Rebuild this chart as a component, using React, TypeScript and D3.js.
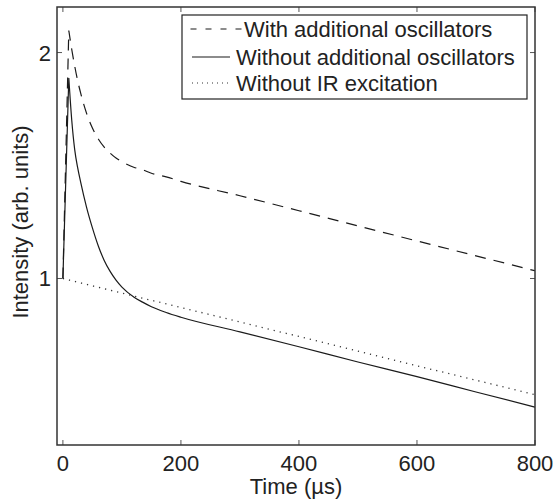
import React from "react";
import * as d3 from "d3";

const timeUs = [0, 10, 15, 20, 25, 30, 40, 50, 60, 70, 80, 90, 100, 120, 135, 150, 175, 200, 300, 400, 500, 600, 700, 800];
const withOscillators = [1, 2.14, 2.019, 1.919, 1.835, 1.767, 1.661, 1.587, 1.534, 1.496, 1.469, 1.447, 1.431, 1.407, 1.396, 1.381, 1.366, 1.347, 1.289, 1.231, 1.175, 1.122, 1.072, 1.024];
const withoutOscillators = [1, 1.85, 1.625, 1.485, 1.405, 1.345, 1.245, 1.168, 1.105, 1.057, 1.022, 0.995, 0.974, 0.945, 0.93, 0.917, 0.901, 0.888, 0.849, 0.811, 0.774, 0.74, 0.706, 0.674];
const timeIR = [0, 100, 200, 300, 400, 500, 600, 700, 800];
const withoutIR = [1, 0.956, 0.915, 0.875, 0.837, 0.8, 0.765, 0.732, 0.7];

const xTicks = [0, 200, 400, 600, 800];
const yTicks = [1, 2];
const legendLabels = ["With additional oscillators", "Without additional oscillators", "Without IR excitation"];

const W = 554;
const H = 500;
const L = 57, R = 535, T = 7, B = 445;
const FONT = "'Liberation Sans', Arial, Helvetica, sans-serif";

export default function App() {
  const x = d3.scaleLinear().domain([-10, 800]).range([L, R]);
  const y = d3.scaleLog().domain([0.6, 2.3]).range([B, T]);

  const pts = (ts: number[], vs: number[]) => ts.map((t, i) => [x(t), y(vs[i])] as [number, number]);
  const linear = d3.line().curve(d3.curveLinear);
  const smooth = d3.line().curve(d3.curveMonotoneX);

  const peakPath = (ts: number[], vs: number[]) => {
    const p = pts(ts, vs);
    const rise = linear(p.slice(0, 2)) as string;
    const decay = (smooth(p.slice(1)) as string).replace(/^M[^LC]*/, "");
    return rise + decay;
  };

  const dashedPath = peakPath(timeUs, withOscillators);
  const solidPath = peakPath(timeUs, withoutOscillators);
  const dottedPath = linear(pts(timeIR, withoutIR)) as string;

  const lineColor = "#1a1a1a";
  const axisColor = "#333";
  const tickColor = "#555";
  const tickLen = 5;

  return (
    <svg width={W} height={H} style={{ position: "absolute", left: 0, top: 0, background: "#fff" }} fontFamily={FONT}>
      <rect x={0} y={0} width={W} height={H} fill="#fff" />
      <defs>
        <clipPath id="plot">
          <rect x={L} y={T} width={R - L} height={B - T} />
        </clipPath>
      </defs>
      <g clipPath="url(#plot)" fill="none" stroke={lineColor} strokeWidth={1.2}>
        <path d={dottedPath} strokeDasharray="1.2 5" strokeWidth={1.3} stroke="#333" />
        <path d={dashedPath} strokeDasharray="11 8" />
        <path d={solidPath} />
      </g>
      <g stroke={tickColor} strokeWidth={1}>
        {xTicks.map((t) => (
          <g key={"xt" + t}>
            <line x1={x(t)} x2={x(t)} y1={B} y2={B - tickLen} />
            <line x1={x(t)} x2={x(t)} y1={T} y2={T + tickLen} />
          </g>
        ))}
        {yTicks.map((v) => (
          <g key={"yt" + v}>
            <line x1={L} x2={L + tickLen} y1={y(v)} y2={y(v)} />
            <line x1={R} x2={R - tickLen} y1={y(v)} y2={y(v)} />
          </g>
        ))}
      </g>
      <rect x={L} y={T} width={R - L} height={B - T} fill="none" stroke={axisColor} strokeWidth={1.5} />
      <g fontSize={22} fill="#222">
        {xTicks.map((t) => (
          <text key={"xl" + t} x={x(t)} y={471} textAnchor="middle">{t}</text>
        ))}
        {yTicks.map((v) => (
          <text key={"yl" + v} x={51} y={y(v) + 8} textAnchor="end">{v}</text>
        ))}
      </g>
      <text x={(L + R) / 2} y={493.5} textAnchor="middle" fontSize={22} fill="#222">Time (µs)</text>
      <text transform={`translate(27.5,${(T + B) / 2 - 4}) rotate(-90)`} textAnchor="middle" fontSize={22} fill="#222">Intensity (arb. units)</text>
      <g>
        <rect x={182} y={15} width={345} height={84} fill="#fff" stroke="#222" strokeWidth={1.2} />
        <line x1={190.5} x2={242} y1={29} y2={29} stroke={lineColor} strokeWidth={1.2} strokeDasharray="6 9" />
        <text x={244} y={37} fontSize={22} fill="#222">{legendLabels[0]}</text>
        <line x1={192} x2={230} y1={57} y2={57} stroke={lineColor} strokeWidth={1.2} />
        <text x={236} y={65} fontSize={22} fill="#222">{legendLabels[1]}</text>
        <line x1={192} x2={230} y1={83} y2={83} stroke="#333" strokeWidth={1.2} strokeDasharray="1 4" />
        <text x={236} y={91} fontSize={22} fill="#222">{legendLabels[2]}</text>
      </g>
    </svg>
  );
}
